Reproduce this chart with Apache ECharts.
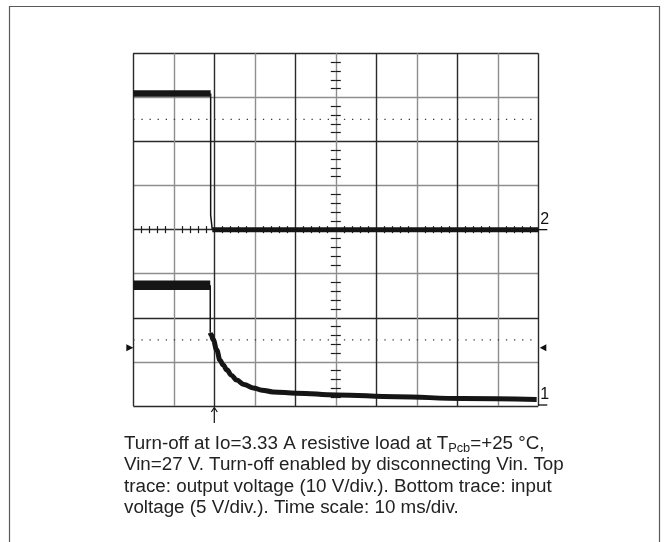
<!DOCTYPE html>
<html><head><meta charset="utf-8">
<script src="https://cdn.jsdelivr.net/npm/echarts@6/dist/echarts.min.js"></script>
<style>html,body{margin:0;padding:0;background:#fff}#c{width:667px;height:542px}</style>
</head><body><div id="c"></div>
<script>
// Axes: time in ms (10 ms/div, 10 divs), vertical in screen divisions (8 divs)
const timeMin = 0, timeMax = 100, timeStep = 10;
const divMin = 0, divMax = 8, divStep = 1;
const dotLevels = [6.5, 1.5];

// Channel 2 (top trace, output voltage), in divisions
const ch2HighTime = [0, 19.1];
const ch2HighLevel = [7.09, 7.09];
const ch2EdgeTime = [19.1, 19.1, 19.5, 19.5];
const ch2EdgeLevel = [7.09, 4.33, 4.33, 4.0];
const ch2LowTime = [19.5, 100];
const ch2LowLevel = [4.0, 4.0];

// Channel 1 (bottom trace, input voltage), in divisions
const ch1HighTime = [0, 19.0];
const ch1HighLevel = [2.74, 2.74];
const ch1EdgeTime = [19.0, 19.0];
const ch1EdgeLevel = [2.74, 1.66];
const ch1DecayTime = [19.0, 19.2, 19.75, 20.6, 21.4, 22.2, 23.1, 24.2, 25.5, 27.3, 29.6, 31.8, 34.5, 40.3, 50.2, 65.0, 81.4, 99.6];
const ch1DecayLevel = [1.66, 1.62, 1.50, 1.27, 1.04, 0.93, 0.82, 0.70, 0.59, 0.49, 0.41, 0.36, 0.32, 0.29, 0.25, 0.21, 0.17, 0.15];

// Markers
const ch2Ground = 4.0, ch1Ground = 0.0;
const triggerTime = 20;
const levelMarker = 1.32;

const captionLines = [
  null,
  'Vin=27 V. Turn-off enabled by disconnecting Vin. Top',
  'trace: output voltage (10 V/div.). Bottom trace: input',
  'voltage (5 V/div.). Time scale: 10 ms/div.'
];

const zip = (a, b) => a.map((v, i) => [v, b[i]]);
const FONT = '"Liberation Sans", Arial, Helvetica, sans-serif';
const TRACE = '#151515';
const CAP_SIZE = 18.8;

const chart = echarts.init(document.getElementById('c'), null, {renderer: 'canvas'});

function tickAxis(kind, inside) {
  const isX = kind === 'x';
  return {
    type: 'value',
    min: isX ? timeMin : divMin, max: isX ? timeMax : divMax,
    interval: isX ? timeStep : divStep,
    position: isX ? 'bottom' : 'left',
    offset: isX ? -176.35 : -202.5,
    axisLine: {show: false},
    axisTick: {show: false, inside: inside},
    minorTick: {show: true, splitNumber: 5, length: isX ? 3.5 : 5, lineStyle: {color: '#1a1a1a', width: 1.2}},
    axisLabel: {show: false},
    splitLine: {show: false}
  };
}

function lineSeries(t, v, w, smooth) {
  return {
    type: 'line', xAxisIndex: 0, yAxisIndex: 0, data: zip(t, v),
    symbol: 'none', showSymbol: false, silent: true, z: 5,
    smooth: smooth ? 0.4 : false, smoothMonotone: smooth ? 'x' : undefined,
    lineStyle: {color: TRACE, width: w, join: 'round', cap: 'butt'}
  };
}

const option = {
  animation: false,
  backgroundColor: '#fff',
  grid: {left: 133.3, top: 53.3, width: 405, height: 352.7, containLabel: false, outerBoundsMode: 'none'},
  xAxis: [
    {
      type: 'value', min: timeMin, max: timeMax, interval: timeStep,
      axisLine: {show: false}, axisTick: {show: false}, axisLabel: {show: false},
      splitLine: {show: true, showMinLine: true, showMaxLine: true, lineStyle: {color: ['#2a2a2a', '#8e8e8e'], width: 1.4}}
    },
    tickAxis('x', false), tickAxis('x', true)
  ],
  yAxis: [
    {
      type: 'value', min: divMin, max: divMax, interval: divStep,
      axisLine: {show: false}, axisTick: {show: false}, axisLabel: {show: false},
      splitLine: {show: true, showMinLine: true, showMaxLine: true, lineStyle: {color: ['#2a2a2a', '#8e8e8e'], width: 1.4}}
    },
    tickAxis('y', false), tickAxis('y', true)
  ],
  series: [
    ...dotLevels.map(l => ({
      type: 'line', data: [[timeMin, l], [timeMax, l]], symbol: 'none', silent: true, z: 3,
      lineStyle: {color: '#3a3a3a', width: 1.3, type: [1.3, 6.8]}
    })),
    lineSeries(ch2HighTime, ch2HighLevel, 6.5),
    lineSeries(ch2EdgeTime, ch2EdgeLevel, 1.5),
    lineSeries(ch2LowTime, ch2LowLevel, 5),
    lineSeries(ch1HighTime, ch1HighLevel, 9.5),
    lineSeries(ch1EdgeTime, ch1EdgeLevel, 1.5),
    lineSeries(ch1DecayTime, ch1DecayLevel, 5, true)
  ]
};
chart.setOption(option);

const px = (t, v) => chart.convertToPixel({xAxisIndex: 0, yAxisIndex: 0}, [t, v]);
const rightX = px(timeMax, 0)[0];
const leftX = px(timeMin, 0)[0];
const bottomY = px(0, divMin)[1];
const g2 = px(timeMax, ch2Ground);
const g1 = px(timeMax, ch1Ground);
const trig = px(triggerTime, divMin);
const lm = px(timeMin, levelMarker)[1];

const graphics = [
  {type: 'rect', shape: {x: 9.5, y: 6.5, width: 650, height: 600}, style: {fill: 'none', stroke: '#5a5a5a', lineWidth: 1.2}, silent: true},
  // channel 2 marker
  {type: 'text', x: rightX + 2, y: g2[1] - 2, style: {text: '2', font: '16px ' + FONT, fill: '#111', verticalAlign: 'bottom', align: 'left'}},
  {type: 'line', shape: {x1: rightX, y1: g2[1], x2: rightX + 9, y2: g2[1]}, style: {stroke: '#111', lineWidth: 1.3}},
  // channel 1 marker
  {type: 'text', x: rightX + 2, y: g1[1] - 3, style: {text: '1', font: '16px ' + FONT, fill: '#111', verticalAlign: 'bottom', align: 'left'}},
  {type: 'line', shape: {x1: rightX, y1: g1[1] - 1, x2: rightX + 9, y2: g1[1] - 1}, style: {stroke: '#111', lineWidth: 1.3}},
  // level triangles
  {type: 'polygon', shape: {points: [[leftX - 7, lm - 3.5], [leftX - 7, lm + 3.5], [leftX, lm]]}, style: {fill: '#111'}},
  {type: 'polygon', shape: {points: [[rightX + 8, lm - 3.5], [rightX + 8, lm + 3.5], [rightX + 1.5, lm]]}, style: {fill: '#111'}},
  // trigger arrow
  {type: 'line', shape: {x1: trig[0], y1: bottomY + 2, x2: trig[0], y2: bottomY + 17}, style: {stroke: '#111', lineWidth: 1.2}},
  {type: 'polyline', shape: {points: [[trig[0] - 3, bottomY + 6], [trig[0], bottomY + 1.5], [trig[0] + 3, bottomY + 6]]}, style: {stroke: '#111', lineWidth: 1.2, fill: 'none'}},
  // caption
  {type: 'text', x: 124, y: 443.5, style: {
    text: '{n|Turn-off at Io=3.33 A resistive load at T}{s|Pcb}{n|=+25 °C,}',
    verticalAlign: 'middle', align: 'left',
    rich: {
      n: {fontSize: CAP_SIZE, fontFamily: FONT, fill: '#222', lineHeight: 22, verticalAlign: 'middle'},
      s: {fontSize: 12.8, fontFamily: FONT, fill: '#222', lineHeight: 12.8, verticalAlign: 'bottom'}
    }
  }}
];
captionLines.forEach((l, i) => {
  if (!l) return;
  graphics.push({type: 'text', x: 124, y: 443.5 + i * 21.45, style: {text: l, fontSize: CAP_SIZE, fontFamily: FONT, fill: '#222', verticalAlign: 'middle', align: 'left'}});
});
chart.setOption({graphic: graphics});
</script>
</body></html>
